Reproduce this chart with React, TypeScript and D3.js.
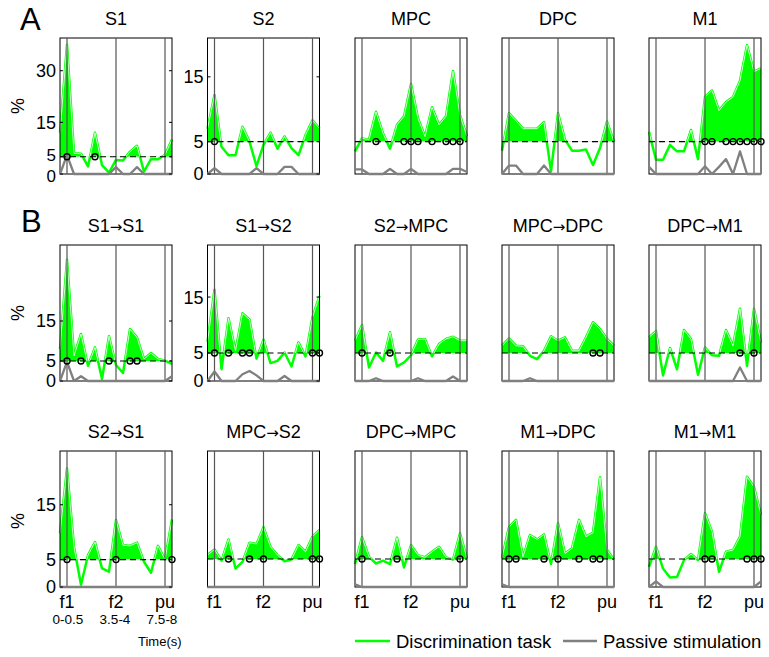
import React from 'react';
import * as d3 from 'd3';

const W = 769;
const H = 657;
const PW = 112;
const PH = 136;
const FONT = "'Liberation Sans', Arial, Helvetica, sans-serif";
const GREEN = '#00ff00';
const GREY = '#808080';

// column lefts and row tops
const colLeft = [60, 207.5, 355, 502, 649];
const rowTop = [38, 245, 451];

// event markers (bin index), labels under the bottom row
const eventIdx = [1, 8, 15];
const eventLabels = ['f1', 'f2', 'pu'];
const eventTimes = ['0-0.5', '3.5-4', '7.5-8'];

// ---- row A ----
const taskS1 = [12, 37.5, 6, 5.9, 2.2, 12, 2.6, 0.4, 4.1, 3.9, 6.5, 8.2, 0.7, 4.3, 4.3, 5.6, 10];
const passS1 = [0, 5.5, 0, 0, 0, 0, 0, 0, 2, 0, 0, 2, 0, 0, 0, 0, 0];
const sigS1 = [1, 5];

const taskS2 = [7, 12.2, 4.2, 2.9, 2.9, 7.3, 5, 1.2, 4.5, 6.4, 3.9, 5.8, 4, 2.9, 6, 8.3, 7];
const passS2 = [0, 0.9, 0, 0, 0, 0, 0, 0.9, 0, 0, 0, 1.1, 1.1, 0, 0, 0, 0];
const sigS2 = [1];

const taskMPC = [3.5, 5.5, 5.3, 9.6, 6.3, 3.9, 7.6, 8.9, 13.9, 8.6, 5.8, 10.3, 7.6, 8.9, 15.9, 9.1, 5.8];
const passMPC = [0.7, 0.7, 0, 0, 0, 0.8, 0, 0, 0.8, 0, 0, 0, 0, 0, 0.8, 0.8, 0.3];
const sigMPC = [3, 7, 8, 9, 11, 13, 14, 15];

const taskDPC = [3.6, 9.4, 8.2, 7, 7, 7, 8, 0.4, 9.4, 5.3, 3.6, 3.6, 3.8, 1.4, 4, 8.1, 5];
const passDPC = [0, 1.3, 1.3, 0, 0, 0, 1.3, 0, 0, 0, 0, 0, 0, 0, 0, 0, 0];
const sigDPC: number[] = [];

const taskM1 = [6.5, 2.2, 2.2, 4.5, 3.5, 3.5, 6.8, 2.3, 11.9, 12.9, 9.8, 11.1, 11.9, 14.4, 19.9, 15.8, 16.3];
const passM1 = [1.1, 0, 0, 0, 0, 0, 0, 0, 1.2, 0, 1.1, 2.3, 0, 3.5, 0, 0, 0];
const sigM1 = [8, 9, 11, 12, 13, 14, 15, 16];

// ---- row B, first line ----
const taskS1S1 = [8, 30.3, 6.3, 11.75, 3.8, 8.4, 0.5, 11.2, 4, 2, 13, 10.9, 5.5, 7, 5.5, 5.1, 4.25];
const passS1S1 = [0, 4.8, 0, 1.2, 0, 0, 0, 0, 0, 0, 0, 0, 0, 0, 0, 0, 1.2];
const sigS1S1 = [1, 3, 7, 10, 11];

const taskS1S2 = [7, 16.3, 2.1, 11.2, 5.4, 12.1, 11, 4, 7.4, 3.2, 3.6, 5.1, 2.6, 6.9, 4.4, 11.4, 15.2];
const passS1S2 = [0, 1.7, 0, 0, 0, 1.2, 1.8, 1, 0, 0, 0, 0.9, 0, 0, 0, 0, 0];
const sigS1S2 = [1, 3, 5, 6, 15, 16];

const taskS2MPC = [7.2, 10, 2.4, 5.1, 3.6, 8.7, 2.6, 3.3, 4.6, 7.4, 7.5, 4.4, 6.6, 7.5, 7.9, 7.2, 7.2];
const passS2MPC = [0, 0, 0, 0.5, 0, 0, 0, 0, 0, 0.5, 0, 0, 0, 0, 0.8, 0, 0];
const sigS2MPC = [1, 5];

const taskMPCDPC = [6.3, 7.6, 6.3, 6.2, 4.5, 3.9, 5.4, 8, 7.2, 7.8, 5.4, 5.4, 7.8, 10.5, 9.3, 7.5, 6.3];
const passMPCDPC = [0, 0, 0, 0, 0.5, 0, 0, 0, 0, 0, 0, 0, 0, 0, 0, 0, 0];
const sigMPCDPC = [13, 14];

const taskDPCM1 = [7.8, 8.9, 1, 5.9, 2.1, 9.1, 7.5, 1.1, 6, 4.6, 4.5, 9.1, 6.3, 12.9, 2.7, 12.9, 6.9];
const passDPCM1 = [0, 0, 0, 0, 0, 0, 0, 0, 0, 0, 0, 0, 0, 2.4, 0, 0, 0];
const sigDPCM1 = [13, 15];

// ---- row B, second line ----
const taskS2S1 = [9.8, 21.6, 7.3, 0.4, 5.8, 8.2, 3.4, 2.8, 12.2, 7.6, 7.5, 8.1, 4.6, 2.6, 7.5, 5, 12.3];
const passS2S1 = [0, 0, 0, 0, 0, 0, 0, 0, 0, 0, 0, 0, 0, 0, 0, 0, 0];
const sigS2S1 = [1, 8, 16];

const taskMPCS2 = [5.7, 6.7, 4.7, 8.5, 3.3, 4.5, 7.9, 7.7, 10.7, 7.2, 5.7, 4.6, 4.9, 7.5, 6.3, 9, 10.2];
const passMPCS2 = [0, 0, 0, 0, 0, 0, 0, 0, 0, 0, 0, 0, 0, 0, 0, 0, 0];
const sigMPCS2 = [3, 6, 8, 15, 16];

const taskDPCMPC = [4.1, 8.9, 5.4, 4.2, 4.7, 4.1, 8.8, 3.5, 7.5, 5.7, 5.3, 6.3, 7.2, 5.3, 4.9, 9.6, 5.1];
const passDPCMPC = [0.5, 0, 0, 0, 0, 0, 0, 0, 0, 0, 0, 0, 0, 0, 0, 0, 0];
const sigDPCMPC = [1, 6, 15];

const taskM1DPC = [5.2, 10.7, 12, 5.4, 9.3, 8.5, 9.4, 4.1, 11.4, 6, 6.9, 12, 9, 9.7, 19.6, 6.6, 4.9];
const passM1DPC = [0.5, 0, 0, 0, 0, 0, 0, 0, 0, 0, 0, 0, 0, 0, 0, 0, 0];
const sigM1DPC = [1, 2, 6, 8, 11, 13, 14];

const taskM1M1 = [3.6, 7.2, 3.3, 1.7, 1.8, 4.8, 5.9, 4.8, 13.2, 9.9, 2.7, 6.3, 6.6, 9, 19.7, 17.9, 12.9];
const passM1M1 = [0, 1, 0, 0, 0, 0, 0, 0, 0, 0, 0, 0, 0, 0, 0, 0, 1];
const sigM1M1 = [8, 9, 14, 15, 16];

type PanelDef = {
  id: string;
  title: string;
  row: number;
  col: number;
  task: number[];
  pass: number[];
  sig: number[];
  yMax: number;
  ticks: number[] | null;
};

const panels: PanelDef[] = [
  { id: 'a1', title: 'S1', row: 0, col: 0, task: taskS1, pass: passS1, sig: sigS1, yMax: 39.5, ticks: [0, 5, 15, 30] },
  { id: 'a2', title: 'S2', row: 0, col: 1, task: taskS2, pass: passS2, sig: sigS2, yMax: 21, ticks: [0, 5, 15] },
  { id: 'a3', title: 'MPC', row: 0, col: 2, task: taskMPC, pass: passMPC, sig: sigMPC, yMax: 21, ticks: null },
  { id: 'a4', title: 'DPC', row: 0, col: 3, task: taskDPC, pass: passDPC, sig: sigDPC, yMax: 21, ticks: null },
  { id: 'a5', title: 'M1', row: 0, col: 4, task: taskM1, pass: passM1, sig: sigM1, yMax: 21, ticks: null },
  { id: 'b1', title: 'S1→S1', row: 1, col: 0, task: taskS1S1, pass: passS1S1, sig: sigS1S1, yMax: 34, ticks: [0, 5, 15] },
  { id: 'b2', title: 'S1→S2', row: 1, col: 1, task: taskS1S2, pass: passS1S2, sig: sigS1S2, yMax: 24.3, ticks: [0, 5, 15] },
  { id: 'b3', title: 'S2→MPC', row: 1, col: 2, task: taskS2MPC, pass: passS2MPC, sig: sigS2MPC, yMax: 24.3, ticks: null },
  { id: 'b4', title: 'MPC→DPC', row: 1, col: 3, task: taskMPCDPC, pass: passMPCDPC, sig: sigMPCDPC, yMax: 24.3, ticks: null },
  { id: 'b5', title: 'DPC→M1', row: 1, col: 4, task: taskDPCM1, pass: passDPCM1, sig: sigDPCM1, yMax: 24.3, ticks: null },
  { id: 'c1', title: 'S2→S1', row: 2, col: 0, task: taskS2S1, pass: passS2S1, sig: sigS2S1, yMax: 24.8, ticks: [0, 5, 15] },
  { id: 'c2', title: 'MPC→S2', row: 2, col: 1, task: taskMPCS2, pass: passMPCS2, sig: sigMPCS2, yMax: 24.3, ticks: null },
  { id: 'c3', title: 'DPC→MPC', row: 2, col: 2, task: taskDPCMPC, pass: passDPCMPC, sig: sigDPCMPC, yMax: 24.3, ticks: null },
  { id: 'c4', title: 'M1→DPC', row: 2, col: 3, task: taskM1DPC, pass: passM1DPC, sig: sigM1DPC, yMax: 24.3, ticks: null },
  { id: 'c5', title: 'M1→M1', row: 2, col: 4, task: taskM1M1, pass: passM1M1, sig: sigM1M1, yMax: 24.3, ticks: null },
];

// the arrow glyph of Liberation Sans is tiny, take DejaVu's instead
function Title({ text, x, y }: { text: string; x: number; y: number }) {
  const parts = text.split('→');
  return (
    <text x={x} y={y} textAnchor="middle" fontSize={18}>
      {parts.map((s, i) => (
        <React.Fragment key={i}>
          {i > 0 && <tspan fontFamily="'DejaVu Sans', sans-serif" fontSize={15}>→</tspan>}
          <tspan>{s}</tspan>
        </React.Fragment>
      ))}
    </text>
  );
}

function Panel({ p }: { p: PanelDef }) {
  const left = colLeft[p.col];
  const top = rowTop[p.row];
  const x = d3.scaleLinear().domain([0, p.task.length - 1]).range([left, left + PW]);
  const y = d3.scaleLinear().domain([0, p.yMax]).range([top + PH, top]);
  const line = d3.line<number>().x((_, i) => x(i)).y((d) => y(d));
  const area = d3.area<number>().x((_, i) => x(i)).y0(y(5)).y1((d) => y(d));
  const clip = `above-${p.id}`;
  const isBottom = p.row === 2;
  // the 0 and 5 labels sit very close on the tall S1 scale
  const tight = p.yMax > 35;

  return (
    <g>
      <defs>
        <clipPath id={clip}>
          <rect x={left} y={top} width={PW} height={y(5) - top} />
        </clipPath>
      </defs>
      <Title text={p.title} x={left + PW / 2} y={top - 13} />
      <path d={area(p.task) || ''} fill={GREEN} clipPath={`url(#${clip})`} />
      <path d={line(p.task) || ''} fill="none" stroke={GREEN} strokeWidth={2.5} strokeLinejoin="round" />
      <path d={line(p.task) || ''} fill="none" stroke="#fff" strokeWidth={0.8} strokeLinejoin="round" clipPath={`url(#${clip})`} />
      <rect x={left} y={top} width={PW} height={PH} fill="none" stroke="#000" strokeWidth={1} />
      {eventIdx.map((e) => (
        <line key={e} x1={x(e)} x2={x(e)} y1={top} y2={top + PH} stroke="#555" strokeWidth={1.2} />
      ))}
      <path d={line(p.pass) || ''} fill="none" stroke={GREY} strokeWidth={2.3} strokeLinejoin="round" />
      <line x1={left} x2={left + PW} y1={y(5)} y2={y(5)} stroke="#000" strokeWidth={1.1} strokeDasharray="6,4" />
      {p.sig.map((s) => (
        <circle key={s} cx={x(s)} cy={y(5)} r={3} fill="none" stroke="#000" strokeWidth={1.4} />
      ))}
      {p.ticks && p.ticks.map((t) => (
        <g key={t}>
          <line x1={left} x2={left + 3} y1={y(t)} y2={y(t)} stroke="#000" />
          <line x1={left + PW - 3} x2={left + PW} y1={y(t)} y2={y(t)} stroke="#000" />
          <text
            x={left - 4}
            y={y(t) + (tight && t === 0 ? 1.5 : tight && t === 5 ? -1.5 : 0)}
            dy="0.36em"
            textAnchor="end"
            fontSize={tight && t <= 5 ? 17 : 18}
          >
            {t}
          </text>
        </g>
      ))}
      {isBottom && eventIdx.map((e, k) => (
        <text key={`l${e}`} x={x(e)} y={top + PH + 21} textAnchor="middle" fontSize={18}>{eventLabels[k]}</text>
      ))}
      {isBottom && p.col === 0 && eventIdx.map((e, k) => (
        <text key={`t${e}`} x={x(e) - (k === 0 ? -1 : k === 2 ? 3 : 1)} y={top + PH + 37} textAnchor="middle" fontSize={13.5}>{eventTimes[k]}</text>
      ))}
    </g>
  );
}

export default function App() {
  return (
    <svg width={W} height={H} style={{ position: 'absolute', left: 0, top: 0, background: '#fff' }} fontFamily={FONT}>
      <rect width={W} height={H} fill="#fff" />
      <text x={20} y={30} fontSize={31}>A</text>
      <text x={21} y={232} fontSize={31}>B</text>
      {[106, 313, 521].map((cy, i) => (
        <text key={i} transform={`translate(24,${cy}) rotate(-90)`} textAnchor="middle" fontSize={18}>%</text>
      ))}
      {panels.map((p) => <Panel key={p.id} p={p} />)}
      <text x={138} y={646} fontSize={13}>Time(s)</text>
      <line x1={355} x2={390} y1={641} y2={641} stroke={GREEN} strokeWidth={2.5} />
      <text x={396} y={648} fontSize={18.5}>Discrimination task</text>
      <line x1={563} x2={597} y1={641} y2={641} stroke={GREY} strokeWidth={2.5} />
      <text x={603} y={648} fontSize={18.5}>Passive stimulation</text>
    </svg>
  );
}
